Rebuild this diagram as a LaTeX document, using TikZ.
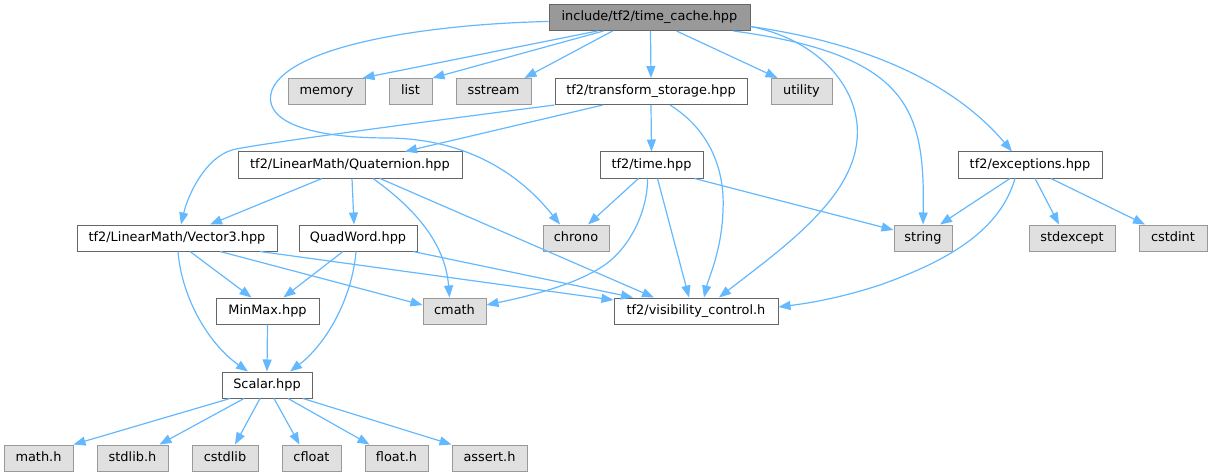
\documentclass[tikz,border=0pt]{standalone}
\usepackage{fontspec}
\setmainfont{DejaVu Sans}
\usetikzlibrary{arrows.meta}
\definecolor{edgec}{HTML}{63B8FF}
\definecolor{rootfill}{HTML}{999999}
\definecolor{darkb}{HTML}{666666}
\definecolor{grayfill}{HTML}{E0E0E0}
\definecolor{grayb}{HTML}{999999}
\begin{document}
\begin{tikzpicture}[x=1pt,y=-1pt,
  box/.style={draw, line width=1pt, inner sep=0pt, minimum height=26pt, text height=9.5pt, text depth=3pt, font=\fontsize{12.9}{15}\selectfont, anchor=center},
  rootbox/.style={box, fill=rootfill, draw=darkb},
  filebox/.style={box, fill=white, draw=darkb},
  sysbox/.style={box, fill=grayfill, draw=grayb},
  edge/.style={draw=edgec, line width=1.2pt, -{Triangle[length=12pt,width=9pt,fill=edgec]}}]
\useasboundingbox (0,0) rectangle (1213,476);
% nodes
\node[rootbox, minimum width=201pt] (root) at (649.5,17.5) {include/tf2/time\_cache.hpp};
\node[sysbox, minimum width=77pt] (memory) at (326.5,91.5) {memory};
\node[sysbox, minimum width=43pt] (list) at (410.5,91.5) {list};
\node[sysbox, minimum width=75pt] (sstream) at (493.5,91.5) {sstream};
\node[filebox, minimum width=192pt] (ts) at (651,91.5) {tf2/transform\_storage.hpp};
\node[sysbox, minimum width=61pt] (utility) at (801.5,91.5) {utility};
\node[filebox, minimum width=224pt] (quat) at (350,165) {tf2/LinearMath/Quaternion.hpp};
\node[filebox, minimum width=103pt] (time) at (651.5,165) {tf2/time.hpp};
\node[filebox, minimum width=144pt] (exc) at (1030,165) {tf2/exceptions.hpp};
\node[filebox, minimum width=200pt] (vec) at (177,238) {tf2/LinearMath/Vector3.hpp};
\node[filebox, minimum width=118pt] (quad) at (358,238) {QuadWord.hpp};
\node[sysbox, minimum width=66pt] (chrono) at (576,238) {chrono};
\node[sysbox, minimum width=58pt] (string) at (923,238) {string};
\node[sysbox, minimum width=86pt] (stdexcept) at (1072,238) {stdexcept};
\node[sysbox, minimum width=68pt] (cstdint) at (1173,238) {cstdint};
\node[filebox, minimum width=103pt] (minmax) at (267.5,311) {MinMax.hpp};
\node[sysbox, minimum width=63pt] (cmath) at (454.5,311) {cmath};
\node[filebox, minimum width=164pt] (vis) at (696,311) {tf2/visibility\_control.h};
\node[filebox, minimum width=90pt] (scalar) at (267,385) {Scalar.hpp};
\node[sysbox, minimum width=69pt] (mathh) at (38.5,458) {math.h};
\node[sysbox, minimum width=71pt] (stdlibh) at (132.5,458) {stdlib.h};
\node[sysbox, minimum width=66pt] (cstdlib) at (225,458) {cstdlib};
\node[sysbox, minimum width=59pt] (cfloat) at (311.5,458) {cfloat};
\node[sysbox, minimum width=63pt] (floath) at (396.5,458) {float.h};
\node[sysbox, minimum width=75pt] (asserth) at (489.5,458) {assert.h};
% edges from root
\draw[edge] ([xshift=-52pt]root.south) -- ([xshift=-3pt]memory.north east);
\draw[edge] ([xshift=-46pt]root.south) -- (list.north east);
\draw[edge] ([xshift=-37pt]root.south) -- ([xshift=31pt]sstream.north);
\draw[edge] ([xshift=1pt]root.south) -- (ts.north);
\draw[edge] ([xshift=27pt]root.south) -- ([xshift=-24pt]utility.north);
\draw[edge] ([yshift=-4pt]root.west) .. controls (430,24) and (290,45) .. (272,90)
  .. controls (262,118) and (300,138) .. (389,138)
  .. controls (460,139) and (515,168) .. ([xshift=-16pt]chrono.north);
\draw[edge] ([yshift=-9pt]root.east) .. controls (820,40) and (862,90) .. (857,140)
  .. controls (852,200) and (780,250) .. ([xshift=23pt]vis.north);
\draw[edge] ([xshift=84pt]root.south) .. controls (910,55) and (925,110) .. (string.north);
\draw[edge] ([yshift=-9pt]root.east) .. controls (880,45) and (960,90) .. ([xshift=-18pt]exc.north);
% edges from transform_storage
\draw[edge] (ts.south west) .. controls (400,125) and (250,145) .. (232,150)
  .. controls (205,158) and (188,195) .. ([xshift=4pt]vec.north);
\draw[edge] ([xshift=-48pt]ts.south) -- ([xshift=55pt]quat.north);
\draw[edge] (ts.south) -- (time.north);
\draw[edge] ([xshift=19pt]ts.south) .. controls (710,130) and (725,170) .. (723,210)
  .. controls (722,250) and (708,280) .. ([xshift=8pt]vis.north);
% edges from time
\draw[edge] ([xshift=-13pt]time.south) -- ([xshift=12pt]chrono.north);
\draw[edge] ([xshift=-4pt]time.south) .. controls (648,210) and (630,250) .. (600,268)
  .. controls (570,287) and (520,298) .. ([yshift=6pt]cmath.east);
\draw[edge] ([xshift=6pt]time.south) -- ([xshift=-7pt]vis.north);
\draw[edge] ([xshift=43pt]time.south) -- ([yshift=8pt]string.west);
% edges from quaternion
\draw[edge] ([xshift=-28pt]quat.south) -- ([xshift=33pt]vec.north);
\draw[edge] ([xshift=2pt]quat.south) -- ([xshift=-4pt]quad.north);
\draw[edge] ([xshift=23pt]quat.south) .. controls (410,205) and (445,240) .. ([xshift=-5pt]cmath.north);
\draw[edge] ([xshift=30pt]quat.south) -- ([xshift=-42pt]vis.north);
% edges from vector3
\draw[edge] ([xshift=1pt]vec.south) .. controls (182,300) and (210,345) .. ([xshift=-19pt]scalar.north);
\draw[edge] ([xshift=13pt]vec.south) -- ([xshift=-16pt]minmax.north);
\draw[edge] ([xshift=43pt]vec.south) -- ([yshift=6pt]cmath.west);
\draw[edge] ([xshift=83pt]vec.south) -- ([yshift=11pt]vis.west);
% edges from quadword
\draw[edge] ([xshift=-15pt]quad.south) -- ([xshift=16pt]minmax.north);
\draw[edge] ([xshift=-2pt]quad.south) .. controls (352,300) and (325,345) .. ([xshift=23pt]scalar.north);
\draw[edge] ([xshift=55pt]quad.south) -- ([xshift=-63pt]vis.north);
% minmax
\draw[edge] (minmax.south) -- (scalar.north);
% scalar
\draw[edge] ([xshift=-37pt]scalar.south) -- (mathh.north east);
\draw[edge] ([xshift=-23pt]scalar.south) -- ([xshift=27pt]stdlibh.north);
\draw[edge] ([xshift=-7pt]scalar.south) -- ([xshift=10pt]cstdlib.north);
\draw[edge] ([xshift=7pt]scalar.south) -- ([xshift=-12pt]cfloat.north);
\draw[edge] ([xshift=21pt]scalar.south) -- ([xshift=-27pt]floath.north);
\draw[edge] ([xshift=36pt]scalar.south) -- (asserth.north west);
% exceptions
\draw[edge] ([xshift=-20pt]exc.south) -- ([xshift=17pt]string.north);
\draw[edge] ([xshift=-15pt]exc.south) .. controls (1000,230) and (950,260) .. (880,285)
  .. controls (840,298) and (810,303) .. ([yshift=4pt]vis.east);
\draw[edge] ([xshift=5pt]exc.south) -- ([xshift=-13pt]stdexcept.north);
\draw[edge] ([xshift=21pt]exc.south) -- ([xshift=-28pt]cstdint.north);
\end{tikzpicture}
\end{document}
